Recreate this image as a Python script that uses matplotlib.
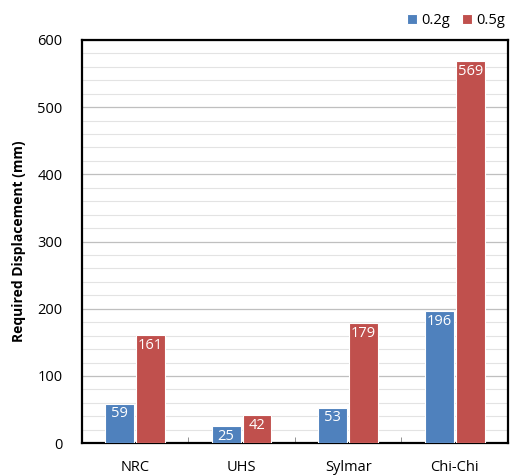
import numpy as np
import matplotlib
matplotlib.use("Agg")
import matplotlib.pyplot as plt
from matplotlib.ticker import MultipleLocator

categories = ["NRC", "UHS", "Sylmar", "Chi-Chi"]
disp_02g = [59, 25, 53, 196]
disp_05g = [161, 42, 179, 569]
series_names = ["0.2g", "0.5g"]

plt.rcParams["font.family"] = ["Open Sans", "DejaVu Sans"]

fig = plt.figure(figsize=(5.21, 4.76), dpi=100)
ax = fig.add_axes([0.157, 0.069, 0.818, 0.847])

x = np.arange(len(categories))
w = 0.27
gap = 0.01
blue = "#4F81BD"
red = "#C0504D"

b1 = ax.bar(x - w / 2 - gap, disp_02g, w, color=blue, edgecolor="white",
            linewidth=0.8, label=series_names[0], zorder=3)
b2 = ax.bar(x + w / 2 + gap, disp_05g, w, color=red, edgecolor="white",
            linewidth=0.8, label=series_names[1], zorder=3)

# value labels sit inside the top of each bar
for bars, vals in ((b1, disp_02g), (b2, disp_05g)):
    for rect, v in zip(bars, vals):
        ax.text(rect.get_x() + rect.get_width() / 2, v - 4, str(v),
                ha="center", va="top", color="white", fontsize=10.5, zorder=4)

ax.set_xlim(-0.5, len(categories) - 0.5)
ax.set_ylim(0, 600)
ax.yaxis.set_major_locator(MultipleLocator(100))
ax.yaxis.set_minor_locator(MultipleLocator(20))
ax.grid(which="major", axis="y", color="#BFBFBF", linewidth=0.9, zorder=0)
ax.grid(which="minor", axis="y", color="#E3E3E3", linewidth=0.8, zorder=0)

ax.set_xticks(x)
ax.set_xticklabels(categories, fontsize=10.5)
ax.set_xticks(np.arange(len(categories) + 1) - 0.5, minor=True)
ax.tick_params(axis="x", which="major", length=0, pad=12)
ax.tick_params(axis="x", which="minor", length=4, direction="in", color="#808080")
ax.tick_params(axis="y", which="both", length=0, labelsize=10.5, pad=14)

for s in ax.spines.values():
    s.set_color("black")
    s.set_linewidth(1.6)

ax.set_ylabel("Required Displacement (mm)", fontsize=10, fontweight="bold",
              labelpad=8)

fig.legend(handles=[b1, b2], labels=series_names, loc="upper right",
           bbox_to_anchor=(0.995, 1.0), ncol=2, frameon=False, fontsize=10.5,
           handlelength=0.7, handleheight=0.7, handletextpad=0.3,
           columnspacing=0.8)

fig.savefig("out.png", dpi=100)
